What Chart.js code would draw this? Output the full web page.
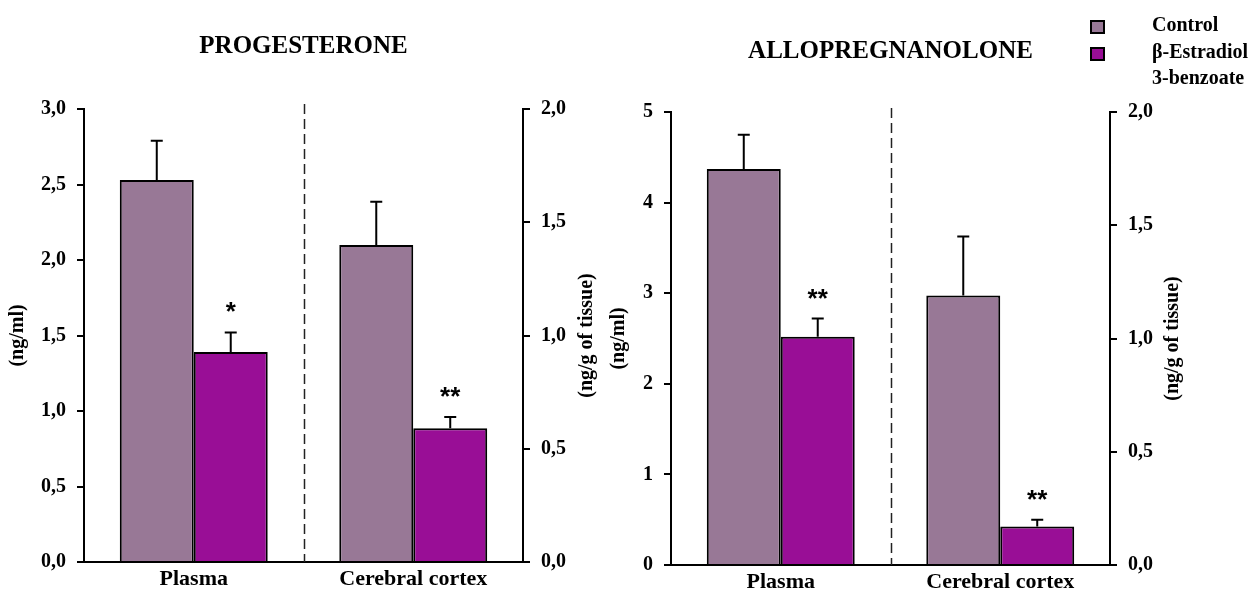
<!DOCTYPE html>
<html>
<head>
<meta charset="utf-8">
<script src="https://cdn.jsdelivr.net/npm/chart.js@4.4.1/dist/chart.umd.min.js"></script>
<style>
  html, body { margin: 0; padding: 0; background: #fff; }
  #wrap { position: relative; width: 1253px; height: 592px; overflow: hidden; }
  canvas { position: absolute; top: 0; }
  #prog { left: 0; }
  #allo { left: 600px; }
</style>
</head>
<body>
<div id="wrap">
  <canvas id="prog" width="600" height="592"></canvas>
  <canvas id="allo" width="653" height="592"></canvas>
</div>
<script>
// Tissues on the category axis; plasma is read on the left axis, cortex on the right axis
const categories = ['Plasma', 'Cerebral cortex'];
const seriesLabels = ['Control', ['β-Estradiol', '3-benzoate']];

// Progesterone: plasma (ng/ml), cerebral cortex (ng/g of tissue); mean and SEM
const progControl = [2.53, 1.40];
const progEstradiol = [1.39, 0.59];
const progControlSem = [0.26, 0.19];
const progEstradiolSem = [0.13, 0.05];
const progMarks = ['*', '**'];

// Allopregnanolone: plasma (ng/ml), cerebral cortex (ng/g of tissue); mean and SEM
const alloControl = [4.37, 1.19];
const alloEstradiol = [2.52, 0.17];
const alloControlSem = [0.38, 0.26];
const alloEstradiolSem = [0.20, 0.03];
const alloMarks = ['**', '**'];

// Axis ranges: [min, max, step]
const progPlasmaAxis = [0, 3, 0.5];
const progCortexAxis = [0, 2, 0.5];
const alloPlasmaAxis = [0, 5, 1];
const alloCortexAxis = [0, 2, 0.5];

const plasmaUnit = '(ng/ml)';
const cortexUnit = '(ng/g of tissue)';

const SERIF = "'Liberation Serif', 'Times New Roman', Times, serif";
const SANS = "'Liberation Sans', Arial, Helvetica, sans-serif";
const CONTROL_COLOR = 'rgb(152, 120, 150)';
const E2_COLOR = 'rgb(153, 14, 150)';

Chart.defaults.font.family = SERIF;
Chart.defaults.color = '#000';

const commaOne = v => Number(v).toFixed(1).replace('.', ',');
const integer = v => String(v);

// One dataset per tissue and group so each tissue uses its own value axis
function buildDatasets(control, estradiol, controlSem, estradiolSem, marks) {
  const axes = ['y', 'y2'];
  const groups = [
    { values: control, sem: controlSem, color: CONTROL_COLOR, label: seriesLabels[0], mark: () => '' },
    { values: estradiol, sem: estradiolSem, color: E2_COLOR, label: seriesLabels[1], mark: i => marks[i] }
  ];
  const out = [];
  categories.forEach((cat, i) => {
    groups.forEach(g => {
      const data = categories.map((c, j) => (j === i ? g.values[i] : null));
      const sem = categories.map((c, j) => (j === i ? g.sem[i] : null));
      const mk = categories.map((c, j) => (j === i ? g.mark(i) : ''));
      out.push({
        label: g.label,
        data,
        sem,
        marks: mk,
        yAxisID: axes[i],
        backgroundColor: g.color,
        borderColor: '#000',
        borderWidth: 2,
        skipNull: true,
        categoryPercentage: 0.674,
        barPercentage: 1.0
      });
    });
  });
  return out;
}

function valueAxis(position, range, unit, fmt, widthPx) {
  return {
    type: 'linear',
    position,
    min: range[0],
    max: range[1],
    grid: {
      display: true, drawOnChartArea: false, drawTicks: true,
      tickLength: 7, tickWidth: 2, lineWidth: 2, color: '#000'
    },
    border: { display: true, color: '#000', width: 2 },
    ticks: {
      stepSize: range[2], padding: 11, color: '#000',
      font: { size: 20, weight: 'bold' }, callback: fmt
    },
    title: { display: false, text: unit },
    afterFit: s => { s.width = widthPx; }
  };
}

function categoryAxis(heightPx) {
  return {
    type: 'category',
    grid: { display: false, drawTicks: false },
    border: { display: true, color: '#000', width: 2 },
    ticks: { color: '#000', padding: 4, font: { size: 22, weight: 'bold' } },
    afterFit: s => { s.height = heightPx; }
  };
}

// Dashed divider between the plasma and cortex groups
const separatorPlugin = {
  id: 'separator',
  beforeDatasetsDraw(chart, args, opts) {
    const x = chart.scales.x;
    const px = Math.round((x.getPixelForTick(0) + x.getPixelForTick(1)) / 2) + 0.5;
    const { top, bottom } = chart.chartArea;
    const ctx = chart.ctx;
    ctx.save();
    ctx.strokeStyle = '#222';
    ctx.lineWidth = 1.5;
    ctx.setLineDash([10, 5]);
    ctx.beginPath();
    ctx.moveTo(px, top - (opts.overshoot || 0));
    ctx.lineTo(px, bottom);
    ctx.stroke();
    ctx.restore();
  }
};

// Upper SEM whiskers and significance asterisks
const errorBarPlugin = {
  id: 'errorBars',
  afterDatasetsDraw(chart, args, opts) {
    const ctx = chart.ctx;
    chart.data.datasets.forEach((ds, i) => {
      const meta = chart.getDatasetMeta(i);
      const scale = chart.scales[ds.yAxisID];
      meta.data.forEach((bar, j) => {
        const v = ds.data[j];
        if (v === null || v === undefined) return;
        const top = scale.getPixelForValue(v + ds.sem[j]);
        ctx.save();
        ctx.strokeStyle = '#000';
        ctx.lineWidth = 2;
        ctx.beginPath();
        ctx.moveTo(bar.x, bar.y);
        ctx.lineTo(bar.x, top);
        ctx.moveTo(bar.x - 6, top);
        ctx.lineTo(bar.x + 6, top);
        ctx.stroke();
        if (ds.marks[j]) {
          ctx.fillStyle = '#000';
          ctx.font = 'bold 26px ' + SANS;
          ctx.textAlign = 'center';
          ctx.textBaseline = 'alphabetic';
          ctx.fillText(ds.marks[j], bar.x, top - 12);
        }
        ctx.restore();
      });
    });
  }
};

// Axis units written upward beside each value axis
const axisTitlePlugin = {
  id: 'axisTitles',
  afterDraw(chart, args, opts) {
    const ctx = chart.ctx;
    const { top, bottom } = chart.chartArea;
    ['y', 'y2'].forEach(id => {
      const s = chart.scales[id];
      const x = s.position === 'left' ? s.right - opts.leftGap : s.left + opts.rightGap;
      ctx.save();
      ctx.translate(x, (top + bottom) / 2);
      ctx.rotate(-Math.PI / 2);
      ctx.fillStyle = '#000';
      ctx.font = 'bold 20px ' + SERIF;
      ctx.textAlign = 'center';
      ctx.textBaseline = 'middle';
      ctx.fillText(s.options.title.text, 0, 0);
      ctx.restore();
    });
  }
};

// Group key in the upper right corner
const cornerLegendPlugin = {
  id: 'cornerLegend',
  afterDraw(chart, args, opts) {
    if (!opts.display) return;
    const ctx = chart.ctx;
    const x0 = chart.width - opts.right;
    chart.data.datasets.slice(0, 2).forEach((ds, k) => {
      const y = opts.top + k * opts.rowGap;
      ctx.save();
      ctx.fillStyle = ds.backgroundColor;
      ctx.fillRect(x0, y - 6, 13, 12);
      ctx.strokeStyle = '#000';
      ctx.lineWidth = 2;
      ctx.strokeRect(x0, y - 6, 13, 12);
      ctx.fillStyle = '#000';
      ctx.font = 'bold 20px ' + SERIF;
      ctx.textAlign = 'left';
      ctx.textBaseline = 'middle';
      const lines = Array.isArray(ds.label) ? ds.label : [ds.label];
      lines.forEach((t, n) => ctx.fillText(t, x0 + opts.textGap, y - 1 + n * opts.lineGap));
      ctx.restore();
    });
  }
};

function makePanel(canvasId, title, datasets, leftAxis, rightAxis, sizes) {
  return new Chart(document.getElementById(canvasId), {
    type: 'bar',
    data: { labels: categories, datasets },
    options: {
      responsive: false,
      animation: false,
      devicePixelRatio: 1,
      layout: { padding: 0 },
      scales: {
        x: categoryAxis(sizes.xHeight),
        y: leftAxis,
        y2: rightAxis
      },
      plugins: {
        legend: { display: false },
        tooltip: { enabled: false },
        title: {
          display: true,
          text: title,
          fullSize: false,
          color: '#000',
          font: { size: 25, weight: 'bold', lineHeight: 1.2 },
          padding: sizes.titlePad
        },
        separator: { overshoot: sizes.overshoot },
        axisTitles: { leftGap: sizes.leftGap, rightGap: sizes.rightGap },
        cornerLegend: sizes.legend
      }
    },
    plugins: [separatorPlugin, errorBarPlugin, axisTitlePlugin, cornerLegendPlugin]
  });
}

makePanel(
  'prog', 'PROGESTERONE',
  buildDatasets(progControl, progEstradiol, progControlSem, progEstradiolSem, progMarks),
  valueAxis('left', progPlasmaAxis, plasmaUnit, commaOne, 84),
  valueAxis('right', progCortexAxis, cortexUnit, commaOne, 77),
  {
    xHeight: 30, titlePad: { top: 32, bottom: 47 }, overshoot: 5,
    leftGap: 66, rightGap: 64, legend: { display: false }
  }
);

makePanel(
  'allo', 'ALLOPREGNANOLONE',
  buildDatasets(alloControl, alloEstradiol, alloControlSem, alloEstradiolSem, alloMarks),
  valueAxis('left', alloPlasmaAxis, plasmaUnit, integer, 71),
  valueAxis('right', alloCortexAxis, cortexUnit, commaOne, 143),
  {
    xHeight: 27, titlePad: { top: 37, bottom: 45 }, overshoot: 4,
    leftGap: 52, rightGap: 63,
    legend: { display: true, right: 162, top: 27, rowGap: 27, lineGap: 26, textGap: 61 }
  }
);
</script>
</body>
</html>
